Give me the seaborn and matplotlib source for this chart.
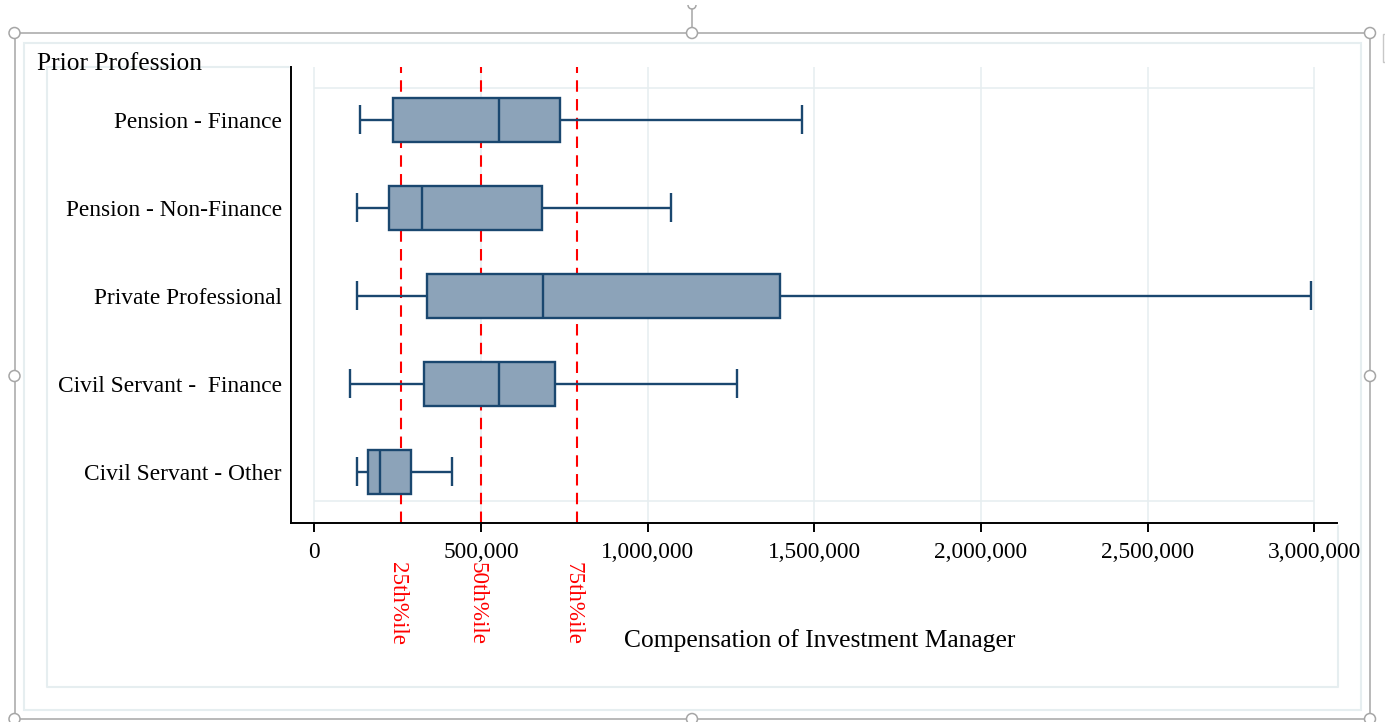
import numpy as np
import pandas as pd
import matplotlib
matplotlib.use("Agg")
import matplotlib.pyplot as plt
import matplotlib.transforms as mtransforms
from matplotlib.patches import Rectangle, Ellipse, Arc
from matplotlib.lines import Line2D
from matplotlib.ticker import FuncFormatter
import seaborn as sns

# ---- data -------------------------------------------------------------
professions = [
    "Pension - Finance",
    "Pension - Non-Finance",
    "Private Professional",
    "Civil Servant -  Finance",
    "Civil Servant - Other",
]
whisker_low = [138000, 129000, 129000, 107000, 129000]
quartile_1 = [237000, 225000, 337000, 330000, 162000]
median = [554000, 324000, 687000, 554000, 198000]
quartile_3 = [736000, 682000, 1398000, 723000, 289000]
whisker_high = [1463000, 1069000, 2990000, 1268000, 412000]

pct_values = [261000, 499000, 789000]
pct_labels = ["25th%ile", "50th%ile", "75th%ile"]

x_ticks = [0, 500000, 1000000, 1500000, 2000000, 2500000, 3000000]
y_title = "Prior Profession"
x_title = "Compensation of Investment Manager"

# five-number summary per group -> whiskers at min/max, box at the quartiles
rows = []
for name, lo, a, m, b, hi in zip(professions, whisker_low, quartile_1,
                                  median, quartile_3, whisker_high):
    for v in (lo, a, m, b, hi):
        rows.append({"profession": name, "compensation": v})
df = pd.DataFrame(rows)

# ---- style ------------------------------------------------------------
sns.set_theme(style="white")
plt.rcParams["font.family"] = ["Liberation Serif", "DejaVu Serif"]

BOX_FILL = "#8CA3B9"
BOX_EDGE = "#1A476F"
GRID = "#E6EEF0"
FRAME = "#A6A6A6"

W, H = 1385, 722
fig = plt.figure(figsize=(W / 100, H / 100), dpi=100)
fig.patch.set_facecolor("white")


def fx(x):
    return x / W


def fy(y):
    return 1 - y / H


ax = fig.add_axes([fx(291), fy(523), (1337 - 291) / W, (523 - 67) / H])
ax.set_facecolor("white")

sns.boxplot(
    data=df, x="compensation", y="profession", order=professions, orient="h",
    whis=(0, 100), width=0.5, color=BOX_FILL, linecolor=BOX_EDGE,
    linewidth=1.7, saturation=1, showfliers=False, ax=ax, zorder=3,
)

# lengthen whisker caps
for ln in ax.lines:
    xd, yd = np.asarray(ln.get_xdata(), float), np.asarray(ln.get_ydata(), float)
    if len(xd) == 2 and xd[0] == xd[1] and abs(yd[1] - yd[0]) < 0.4:
        c = yd.mean()
        ln.set_ydata([c - 0.165, c + 0.165])
        ln.set_solid_capstyle("butt")

# percentile reference lines
for v in pct_values:
    ax.axvline(v, color="#FF0000", lw=1.5, dashes=(5.5, 3.5), zorder=2)

ax.set_xlim(-70200, 3068000)
ax.set_ylim(4.58, -0.602)
ax.set_xticks(x_ticks)
ax.xaxis.set_major_formatter(FuncFormatter(lambda v, p: f"{int(v):,}"))
ax.grid(axis="x", color=GRID, lw=1.1)
ax.grid(axis="y", visible=False)
ax.set_axisbelow(True)
ax.hlines([-0.36, 4.33], 0, 3000000, color=GRID, lw=1.1, zorder=1)

for s in ("top", "right"):
    ax.spines[s].set_visible(False)
for s in ("left", "bottom"):
    ax.spines[s].set_color("black")
    ax.spines[s].set_linewidth(1.4)

ax.tick_params(axis="x", bottom=True, length=6.5, width=1.4, color="black",
               labelsize=16.8, pad=7.5, direction="out", labelcolor="black")
ax.tick_params(axis="y", left=False, length=0, pad=6.5, labelsize=16.8,
               labelcolor="black")
ax.set_xlabel("")
ax.set_ylabel("")

trans = mtransforms.blended_transform_factory(ax.transData, fig.transFigure)
shift = mtransforms.ScaledTranslation(-4 / 100, 0, fig.dpi_scale_trans)
for v, lab in zip(pct_values, pct_labels):
    ax.text(v, fy(562), lab, transform=trans + shift, rotation=-90,
            ha="center", va="top", color="#FF0000", fontsize=16.6,
            clip_on=False)

fig.text(fx(37), fy(69.5), y_title, fontsize=18.4, ha="left", va="baseline",
         color="black")
fig.text(fx(820), fy(647.5), x_title, fontsize=18.4, ha="center",
         va="baseline", color="black")


# ---- graph region borders ---------------------------------------------
def frame_rect(x0, y0, x1, y1, color, lw, z):
    fig.add_artist(Rectangle((fx(x0), fy(y1)), (x1 - x0) / W, (y1 - y0) / H,
                             fill=False, ec=color, lw=lw, zorder=z,
                             transform=fig.transFigure))


def polyline(xs, ys, color, lw, z):
    fig.add_artist(Line2D([fx(x) for x in xs], [fy(y) for y in ys],
                          color=color, lw=lw, zorder=z,
                          transform=fig.transFigure))


frame_rect(23.5, 42.5, 1361, 710, GRID, 1.5, -5)
# inner region border, interrupted by the plot area
polyline([289, 47, 47, 1338, 1338], [67, 67, 687, 687, 526], GRID, 1.5, -5)

# ---- selection frame with handles ------------------------------------
frame_rect(14.5, 33, 1370, 719, FRAME, 1.1, 20)
polyline([692, 692], [9, 28], FRAME, 1.1, 20)
fig.add_artist(Arc((fx(692), fy(5)), 8 / W, 8 / H, theta1=180, theta2=360,
                   color=FRAME, lw=1.1, zorder=20, transform=fig.transFigure))
for hx, hy in [(14.5, 33), (692, 33), (1370, 33), (14.5, 376), (1370, 376),
               (14.5, 719), (692, 719), (1370, 719)]:
    fig.add_artist(Ellipse((fx(hx), fy(hy)), 11 / W, 11 / H, fc="white",
                           ec=FRAME, lw=1.1, zorder=21,
                           transform=fig.transFigure))
fig.add_artist(Rectangle((fx(1383), fy(62)), 12 / W, 28 / H, fill=False,
                         ec="#C8C8C8", lw=1.0, zorder=20,
                         transform=fig.transFigure))

fig.savefig("out.png", dpi=100)
